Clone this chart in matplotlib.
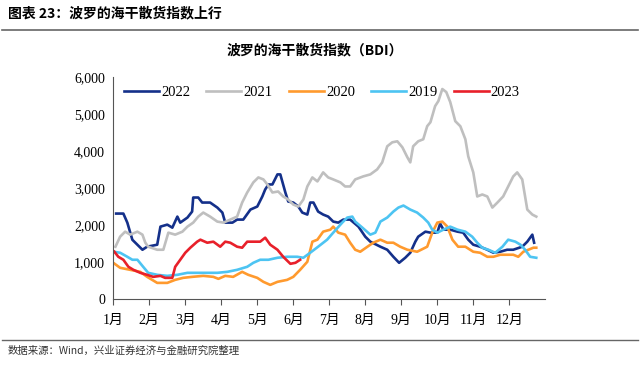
import numpy as np
import matplotlib
matplotlib.use('Agg')
import matplotlib.pyplot as plt
from matplotlib.lines import Line2D
from matplotlib.ticker import FuncFormatter

# (month position, BDI) pairs; 0 = start of January, 12 = end of December
bdi_2022 = [(0.08, 2308), (0.28, 2308), (0.39, 2063), (0.53, 1600), (0.81, 1330), (0.94, 1412), (1.22, 1466),
            (1.31, 1955), (1.5, 2009), (1.64, 1927), (1.78, 2226), (1.86, 2063), (2.06, 2200), (2.19, 2362),
            (2.22, 2742), (2.36, 2742), (2.47, 2606), (2.69, 2606), (2.89, 2470), (3.03, 2335), (3.11, 2063),
            (3.31, 2063), (3.44, 2145), (3.61, 2145), (3.81, 2416), (4.0, 2498), (4.14, 2770), (4.22, 2960),
            (4.31, 3095), (4.42, 3095), (4.56, 3367), (4.64, 3367), (4.78, 2878), (4.86, 2634), (5.0, 2606),
            (5.14, 2498), (5.25, 2335), (5.39, 2281), (5.47, 2606), (5.56, 2606), (5.69, 2362), (5.83, 2281),
            (5.97, 2226), (6.11, 2091), (6.25, 2063), (6.39, 2145), (6.58, 2145), (6.81, 1955), (7.0, 1683),
            (7.14, 1548), (7.42, 1412), (7.61, 1330), (7.78, 1140), (7.94, 977), (8.11, 1113), (8.25, 1249),
            (8.39, 1548), (8.47, 1683), (8.67, 1819), (8.81, 1792), (9.0, 1792), (9.08, 2036), (9.17, 1873),
            (9.36, 1873), (9.56, 1819), (9.72, 1792), (9.86, 1602), (10.0, 1466), (10.19, 1412), (10.39, 1330),
            (10.56, 1249), (10.75, 1276), (10.94, 1330), (11.11, 1330), (11.36, 1412), (11.5, 1548),
            (11.64, 1738), (11.69, 1520)]
bdi_2021 = [(0.06, 1412), (0.19, 1683), (0.33, 1819), (0.47, 1738), (0.67, 1819), (0.81, 1738), (0.89, 1520),
            (0.97, 1412), (1.22, 1330), (1.39, 1330), (1.53, 1792), (1.72, 1738), (1.92, 1819), (2.06, 1955),
            (2.22, 2063), (2.36, 2226), (2.5, 2335), (2.69, 2226), (2.89, 2091), (3.06, 2063), (3.25, 2145),
            (3.44, 2226), (3.58, 2606), (3.72, 2878), (3.89, 3150), (4.03, 3285), (4.17, 3231), (4.28, 3095),
            (4.42, 2878), (4.58, 2905), (4.72, 2770), (4.86, 2688), (5.0, 2552), (5.14, 2498), (5.28, 2688),
            (5.39, 3041), (5.53, 3285), (5.67, 3177), (5.83, 3421), (5.97, 3285), (6.11, 3231), (6.31, 3150),
            (6.44, 3041), (6.58, 3041), (6.72, 3231), (6.94, 3312), (7.14, 3367), (7.33, 3502), (7.47, 3692),
            (7.61, 4127), (7.75, 4235), (7.89, 4262), (8.03, 4100), (8.17, 3828), (8.25, 3692), (8.33, 4127),
            (8.47, 4262), (8.61, 4317), (8.72, 4670), (8.81, 4778), (8.94, 5213), (9.03, 5349), (9.14, 5675),
            (9.25, 5593), (9.36, 5322), (9.5, 4806), (9.64, 4670), (9.78, 4317), (9.86, 3855), (10.0, 3421),
            (10.11, 2770), (10.25, 2824), (10.39, 2770), (10.53, 2470), (10.67, 2606), (10.83, 2770),
            (10.97, 3041), (11.11, 3312), (11.22, 3421), (11.36, 3231), (11.5, 2416), (11.64, 2281), (11.75, 2226)]
bdi_2020 = [(0.0, 977), (0.19, 842), (0.47, 787), (0.75, 733), (0.94, 597), (1.22, 434), (1.5, 434), (1.72, 516),
            (1.94, 570), (2.19, 597), (2.5, 624), (2.78, 597), (2.92, 543), (3.11, 624), (3.33, 597), (3.58, 733),
            (3.75, 652), (4.0, 570), (4.17, 462), (4.36, 380), (4.56, 462), (4.83, 516), (5.0, 597), (5.19, 787),
            (5.39, 1005), (5.53, 1548), (5.67, 1602), (5.83, 1819), (6.03, 1873), (6.11, 1955), (6.25, 1792),
            (6.44, 1738), (6.58, 1520), (6.72, 1330), (6.86, 1276), (7.06, 1412), (7.22, 1520), (7.42, 1602),
            (7.61, 1520), (7.78, 1520), (7.97, 1412), (8.17, 1330), (8.44, 1276), (8.72, 1412), (8.86, 1792),
            (9.0, 2063), (9.14, 2091), (9.28, 1955), (9.42, 1602), (9.58, 1412), (9.78, 1412), (10.0, 1276),
            (10.19, 1249), (10.39, 1140), (10.56, 1140), (10.75, 1195), (10.94, 1195), (11.11, 1195),
            (11.25, 1140), (11.39, 1276), (11.53, 1330), (11.67, 1385), (11.75, 1385)]
bdi_2019 = [(0.0, 1276), (0.19, 1249), (0.39, 1140), (0.53, 1059), (0.67, 1059), (0.83, 869), (0.97, 706),
            (1.22, 652), (1.5, 624), (1.78, 652), (2.06, 706), (2.33, 706), (2.61, 706), (2.89, 706), (3.17, 733),
            (3.44, 787), (3.72, 869), (3.89, 977), (4.08, 1059), (4.31, 1059), (4.56, 1113), (4.83, 1140),
            (5.11, 1140), (5.28, 1113), (5.47, 1249), (5.69, 1412), (5.94, 1602), (6.11, 1792), (6.36, 2063),
            (6.5, 2200), (6.64, 2226), (6.72, 2091), (6.92, 1927), (7.14, 1738), (7.28, 1792), (7.42, 2091),
            (7.61, 2200), (7.78, 2362), (7.92, 2470), (8.06, 2525), (8.25, 2416), (8.44, 2335), (8.61, 2200),
            (8.75, 2063), (8.86, 1873), (9.0, 1792), (9.17, 1873), (9.36, 1955), (9.56, 1873), (9.78, 1819),
            (9.97, 1683), (10.11, 1520), (10.25, 1385), (10.42, 1330), (10.61, 1249), (10.81, 1412),
            (10.97, 1602), (11.17, 1548), (11.31, 1466), (11.44, 1330), (11.58, 1140), (11.75, 1113)]
bdi_2023 = [(0.03, 1276), (0.14, 1140), (0.28, 1059), (0.42, 869), (0.56, 787), (0.75, 706), (0.94, 652),
            (1.11, 597), (1.31, 624), (1.44, 570), (1.64, 570), (1.72, 869), (1.86, 1059), (2.0, 1249),
            (2.14, 1385), (2.33, 1548), (2.42, 1602), (2.61, 1520), (2.78, 1548), (2.97, 1412), (3.11, 1548),
            (3.25, 1520), (3.44, 1412), (3.58, 1385), (3.72, 1548), (3.89, 1548), (4.08, 1548), (4.22, 1656),
            (4.36, 1466), (4.56, 1330), (4.72, 1140), (4.92, 950), (5.06, 977), (5.19, 1059)]

years = ['2022', '2021', '2020', '2019', '2023']
colors = ['#14308A', '#BFBFBF', '#FF9A2E', '#4DC4F2', '#E8202A']
month_labels = ['%d月' % m for m in range(1, 13)]

serif = ['Liberation Serif', 'Noto Sans CJK SC']
cjk = ['Noto Sans CJK SC', 'DejaVu Sans']

fig = plt.figure(figsize=(6.4, 3.65), dpi=100)
ax = fig.add_axes([0.177, 0.181, 0.675, 0.608])

for name, pts, c in zip(years, [bdi_2022, bdi_2021, bdi_2020, bdi_2019, bdi_2023], colors):
    xs, ys = zip(*pts)
    ax.plot(xs, ys, color=c, lw=1.9, label=name)

ax.set_xlim(0, 12)
ax.set_ylim(0, 6000)
ax.set_yticks(np.arange(0, 6001, 1000))
ax.yaxis.set_major_formatter(FuncFormatter(lambda v, p: '{:,.0f}'.format(v)))
ax.set_xticks(np.arange(0, 12))
ax.set_xticklabels(month_labels)
ax.tick_params(axis='y', length=0, pad=6, labelsize=10)
ax.tick_params(axis='x', length=4, direction='out', pad=7, labelsize=10, color='#555555')
for lbl in ax.get_xticklabels() + ax.get_yticklabels():
    lbl.set_family(serif)
for s in ['top', 'right']:
    ax.spines[s].set_visible(False)
for s in ['left', 'bottom']:
    ax.spines[s].set_color('#555555')
    ax.spines[s].set_linewidth(0.8)

ax.legend(loc='upper left', ncol=5, frameon=False, handlelength=2.4, handletextpad=0.15,
          columnspacing=1.1, bbox_to_anchor=(-0.005, 1.02), prop={'family': serif, 'size': 10.5})

fig.text(0.492, 0.862, '波罗的海干散货指数（BDI）', ha='center', va='center', fontsize=10,
         fontweight='bold', family=cjk)
fig.text(0.012, 0.963, '图表 23：波罗的海干散货指数上行', ha='left', va='center', fontsize=10,
         fontweight='bold', family=cjk)
fig.add_artist(Line2D([0.003, 0.997], [0.918, 0.918], color='#666666', lw=1.2))
fig.add_artist(Line2D([0.003, 0.997], [0.068, 0.068], color='#666666', lw=1.0))
fig.text(0.012, 0.038, '数据来源：Wind，兴业证券经济与金融研究院整理', ha='left', va='center',
         fontsize=7.5, family=cjk, color='#333333')

fig.savefig('out.png', dpi=100)
